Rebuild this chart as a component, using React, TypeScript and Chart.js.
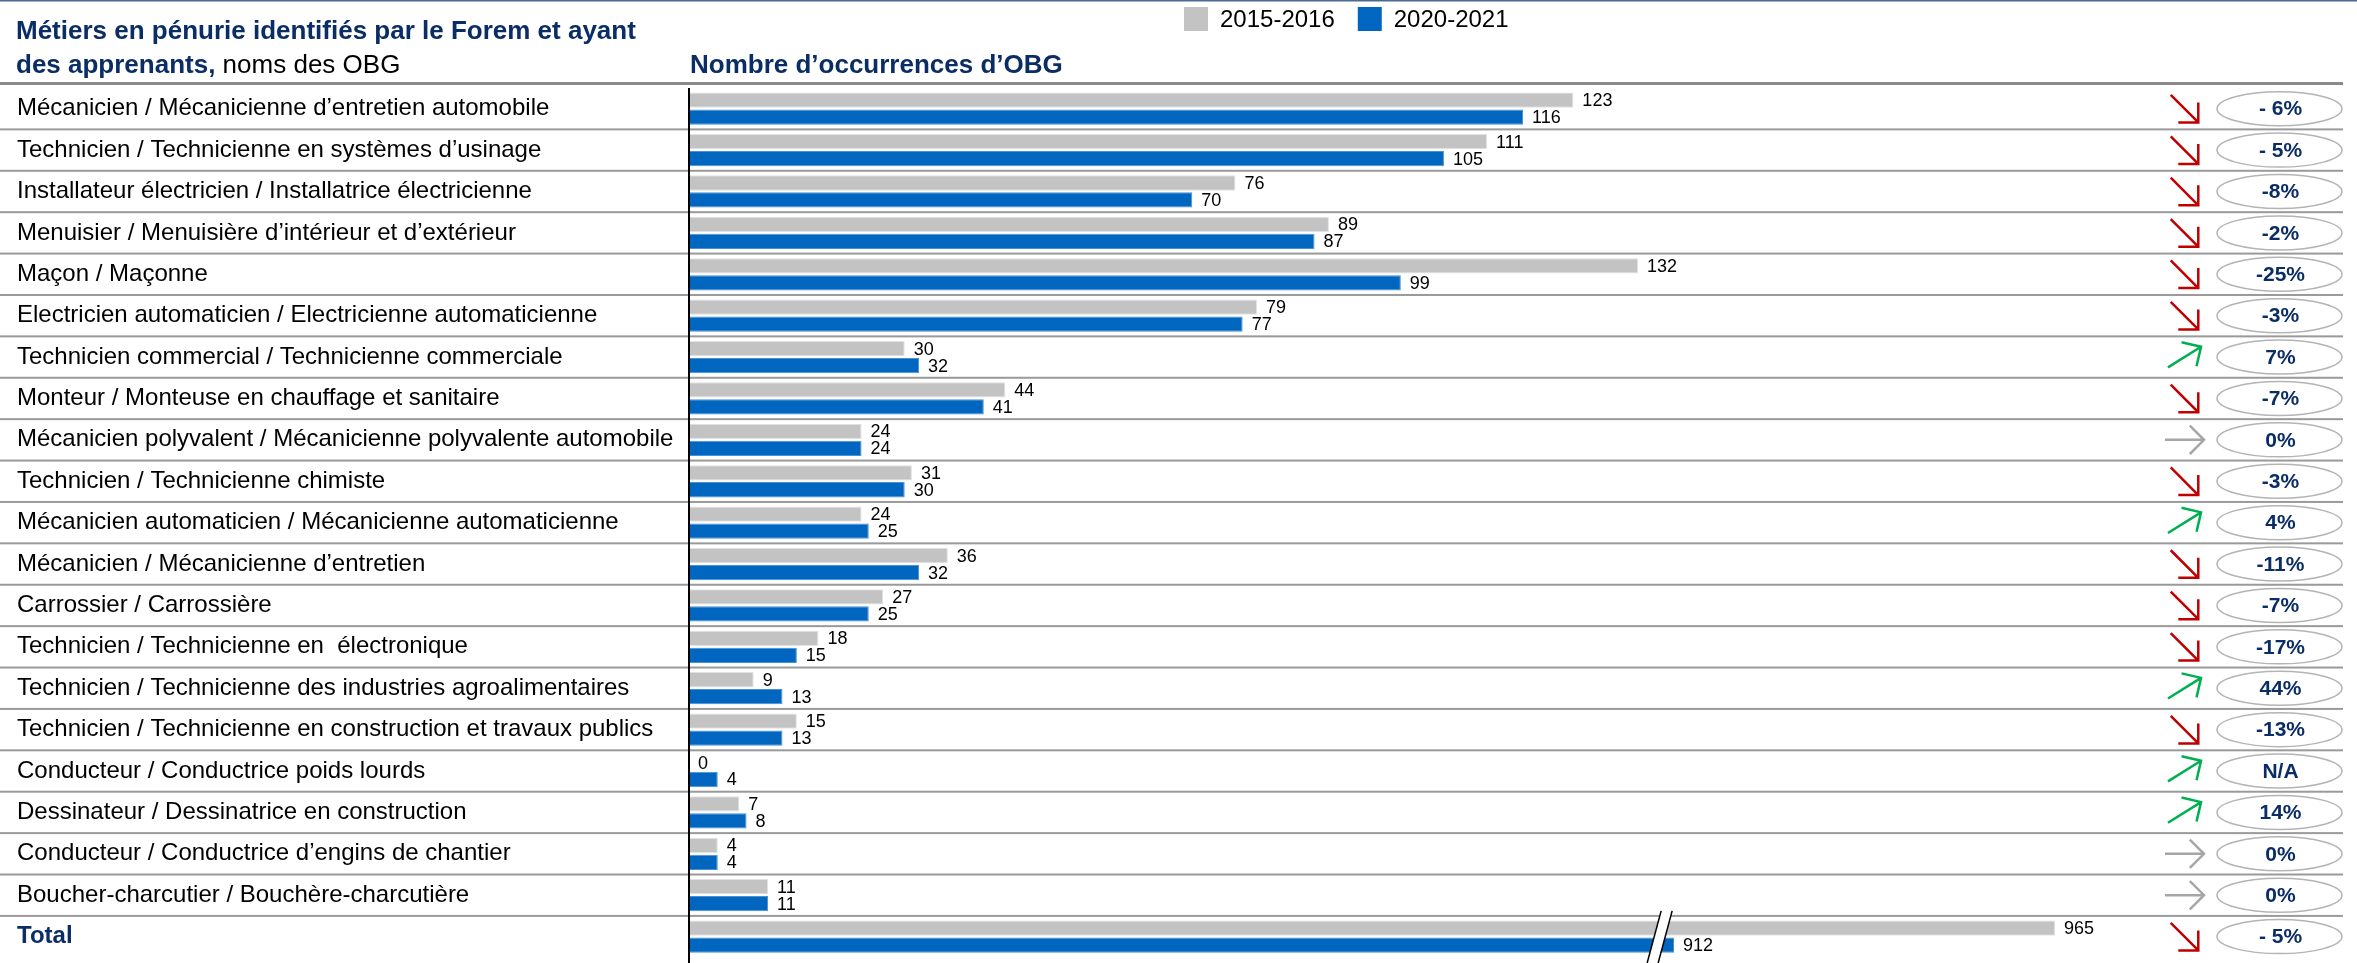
import React, { useEffect, useRef } from 'react';
import { Chart, registerables } from 'chart.js';

Chart.register(...registerables);

const categories = [
  'Mécanicien / Mécanicienne d\u2019entretien automobile',
  'Technicien / Technicienne en systèmes d\u2019usinage',
  'Installateur électricien / Installatrice électricienne',
  'Menuisier / Menuisière d\u2019intérieur et d\u2019extérieur',
  'Maçon / Maçonne',
  'Electricien automaticien / Electricienne automaticienne',
  'Technicien commercial / Technicienne commerciale',
  'Monteur / Monteuse en chauffage et sanitaire',
  'Mécanicien polyvalent / Mécanicienne polyvalente automobile',
  'Technicien / Technicienne chimiste',
  'Mécanicien automaticien / Mécanicienne automaticienne',
  'Mécanicien / Mécanicienne d\u2019entretien',
  'Carrossier / Carrossière',
  'Technicien / Technicienne en  électronique',
  'Technicien / Technicienne des industries agroalimentaires',
  'Technicien / Technicienne en construction et travaux publics',
  'Conducteur / Conductrice poids lourds',
  'Dessinateur / Dessinatrice en construction',
  'Conducteur / Conductrice d\u2019engins de chantier',
  'Boucher-charcutier / Bouchère-charcutière',
  'Total',
];

const values2015 = [123, 111, 76, 89, 132, 79, 30, 44, 24, 31, 24, 36, 27, 18, 9, 15, 0, 7, 4, 11, 965];
const values2020 = [116, 105, 70, 87, 99, 77, 32, 41, 24, 30, 25, 32, 25, 15, 13, 13, 4, 8, 4, 11, 912];

const changeLabels = ['- 6%', '- 5%', '-8%', '-2%', '-25%', '-3%', '7%', '-7%', '0%', '-3%', '4%', '-11%', '-7%', '-17%', '44%', '-13%', 'N/A', '14%', '0%', '0%', '- 5%'];
const trends = ['down', 'down', 'down', 'down', 'down', 'down', 'up', 'down', 'flat', 'down', 'up', 'down', 'down', 'down', 'up', 'down', 'up', 'up', 'flat', 'flat', 'down'];

const seriesLabels = ['2015-2016', '2020-2021'];
const titleLine1 = 'Métiers en pénurie identifiés par le Forem et ayant';
const titleLine2Bold = 'des apprenants,';
const titleLine2Rest = ' noms des OBG';
const axisTitle = 'Nombre d\u2019occurrences d\u2019OBG';

// axis with a break: values above BREAK_FROM + BREAK_SKIP are drawn shifted left by BREAK_SKIP
const AXIS_MAX = 200;
const BREAK_FROM = 135;
const BREAK_SKIP = 775;
const toAxis = (v: number) => (v > BREAK_FROM + BREAK_SKIP ? v - BREAK_SKIP : v);

const GRAY = '#c3c3c3';
const BLUE = '#0066bf';
const NAVY = '#0b2d66';
const SANS = '"Liberation Sans", Arial, sans-serif';

const W = 2357;
const H = 963;

const decorPlugin = {
  id: 'decor',
  beforeDraw(chart: any) {
    const ctx = chart.ctx;
    const area = chart.chartArea;
    const yScale = chart.scales.y;
    ctx.save();
    ctx.fillStyle = '#ffffff';
    ctx.fillRect(0, 0, chart.width, chart.height);
    // top rule
    ctx.fillStyle = '#4a6b91';
    ctx.fillRect(0, 0, chart.width, 1.5);
    // titles
    ctx.fillStyle = NAVY;
    ctx.textBaseline = 'alphabetic';
    ctx.textAlign = 'left';
    ctx.font = `bold 26px ${SANS}`;
    ctx.fillText(titleLine1, 16, 39);
    ctx.fillText(titleLine2Bold, 16, 73);
    const wb = ctx.measureText(titleLine2Bold).width;
    ctx.font = `26px ${SANS}`;
    ctx.fillStyle = '#000';
    ctx.fillText(titleLine2Rest, 16 + wb, 73);
    ctx.fillStyle = NAVY;
    ctx.font = `bold 26px ${SANS}`;
    ctx.fillText(axisTitle, area.left + 1, 73);
    // legend
    ctx.font = `24px ${SANS}`;
    ctx.textBaseline = 'middle';
    let lx = 1184;
    chart.data.datasets.forEach((ds: any) => {
      ctx.fillStyle = ds.backgroundColor;
      ctx.fillRect(lx, 7, 24, 24);
      ctx.fillStyle = '#000';
      ctx.fillText(ds.label, lx + 36, 20);
      lx += 36 + ctx.measureText(ds.label).width + 23;
    });
    // header rule
    ctx.fillStyle = '#8a8a8a';
    ctx.fillRect(0, area.top - 6, 2343, 3);
    // row separators
    ctx.fillStyle = '#9a9a9a';
    for (let i = 0; i < categories.length - 1; i++) {
      const y = (yScale.getPixelForValue(i) + yScale.getPixelForValue(i + 1)) / 2;
      ctx.fillRect(0, y - 1, 2343, 2);
    }
    ctx.restore();
  },
  afterDatasetsDraw(chart: any) {
    const ctx = chart.ctx;
    const area = chart.chartArea;
    const yScale = chart.scales.y;
    const xScale = chart.scales.x;
    ctx.save();
    // value labels
    ctx.font = `18px ${SANS}`;
    ctx.fillStyle = '#000';
    ctx.textAlign = 'left';
    ctx.textBaseline = 'middle';
    const raw = [values2015, values2020];
    chart.data.datasets.forEach((_ds: any, di: number) => {
      const meta = chart.getDatasetMeta(di);
      meta.data.forEach((el: any, i: number) => {
        ctx.fillText(String(raw[di][i]), el.x + 9, el.y + 1);
      });
    });
    // axis break mark on the total row
    const last = categories.length - 1;
    const bx = xScale.getPixelForValue(BREAK_FROM);
    const yTop = (yScale.getPixelForValue(last - 1) + yScale.getPixelForValue(last)) / 2 - 5;
    const yBot = chart.height;
    const slant = 7;
    const gap = 11;
    ctx.fillStyle = '#ffffff';
    ctx.beginPath();
    ctx.moveTo(bx - gap / 2 + slant, yTop);
    ctx.lineTo(bx + gap / 2 + slant, yTop);
    ctx.lineTo(bx + gap / 2 - slant, yBot);
    ctx.lineTo(bx - gap / 2 - slant, yBot);
    ctx.closePath();
    ctx.fill();
    ctx.strokeStyle = '#000';
    ctx.lineWidth = 1.5;
    [-gap / 2, gap / 2].forEach((o) => {
      ctx.beginPath();
      ctx.moveTo(bx + o + slant, yTop);
      ctx.lineTo(bx + o - slant, yBot);
      ctx.stroke();
    });
    // y axis line
    ctx.fillStyle = '#000';
    ctx.fillRect(area.left - 1, area.top, 2, chart.height - area.top);
    // trend arrows and change pills
    const ax = chart.width - 172.5;
    const px = chart.width - 77.5;
    categories.forEach((_c, i) => {
      const cy = yScale.getPixelForValue(i);
      const t = trends[i];
      const ang = t === 'down' ? Math.PI / 4 : t === 'up' ? -32 * Math.PI / 180 : 0;
      const color = t === 'down' ? '#c00000' : t === 'up' ? '#00b050' : '#a6a6a6';
      const len = 39;
      const dx = Math.cos(ang) * len / 2;
      const dy = Math.sin(ang) * len / 2;
      const tipX = ax + dx;
      const tipY = cy + dy;
      ctx.strokeStyle = color;
      ctx.lineWidth = 2.5;
      ctx.lineCap = 'butt';
      ctx.beginPath();
      ctx.moveTo(ax - dx, cy - dy);
      ctx.lineTo(tipX, tipY);
      const back = ang + Math.PI;
      const hl = 20;
      ctx.moveTo(tipX + Math.cos(back + Math.PI / 4) * hl, tipY + Math.sin(back + Math.PI / 4) * hl);
      ctx.lineTo(tipX, tipY);
      ctx.lineTo(tipX + Math.cos(back - Math.PI / 4) * hl, tipY + Math.sin(back - Math.PI / 4) * hl);
      ctx.stroke();
      // pill
      ctx.beginPath();
      ctx.ellipse(px, cy, 62.5, 17, 0, 0, Math.PI * 2);
      ctx.fillStyle = '#ffffff';
      ctx.fill();
      ctx.strokeStyle = '#b4b4b4';
      ctx.lineWidth = 1.5;
      ctx.stroke();
      ctx.fillStyle = NAVY;
      ctx.font = `bold 21px ${SANS}`;
      ctx.textAlign = 'center';
      ctx.textBaseline = 'middle';
      ctx.fillText(changeLabels[i], px + 1, cy + 1);
    });
    ctx.restore();
  },
};

export default function App() {
  const ref = useRef<HTMLCanvasElement | null>(null);
  useEffect(() => {
    document.body.style.margin = '0';
    document.body.style.overflow = 'hidden';
    const canvas = ref.current;
    if (!canvas) return;
    const chart = new Chart(canvas, {
      type: 'bar',
      data: {
        labels: categories,
        datasets: [
          {
            label: seriesLabels[0],
            data: values2015.map(toAxis),
            backgroundColor: GRAY,
            borderColor: '#e2e2e2',
            borderWidth: 1,
            categoryPercentage: 0.82,
            barPercentage: 0.9,
          },
          {
            label: seriesLabels[1],
            data: values2020.map(toAxis),
            backgroundColor: BLUE,
            borderColor: '#4a90d4',
            borderWidth: 1,
            categoryPercentage: 0.82,
            barPercentage: 0.9,
          },
        ],
      },
      options: {
        indexAxis: 'y',
        responsive: false,
        animation: false,
        devicePixelRatio: 1,
        layout: { padding: { left: 17, right: 230, top: 88, bottom: 5.7 } },
        plugins: { legend: { display: false }, tooltip: { enabled: false } },
        scales: {
          x: { display: false, min: 0, max: AXIS_MAX },
          y: {
            grid: { display: false, drawTicks: false },
            border: { display: false },
            afterFit: (scale: any) => {
              scale.width = 689 - 17;
              scale.paddingTop = 0;
              scale.paddingBottom = 0;
            },
            ticks: {
              crossAlign: 'far',
              padding: 0,
              color: (c: any) => (c.index === categories.length - 1 ? NAVY : '#000'),
              font: (c: any) =>
                c.index === categories.length - 1
                  ? { family: SANS, size: 24, weight: 'bold' }
                  : { family: SANS, size: 24 },
            },
          },
        },
      },
      plugins: [decorPlugin],
    } as any);
    return () => chart.destroy();
  }, []);
  return <canvas ref={ref} width={W} height={H} style={{ display: 'block', width: W, height: H }} />;
}
